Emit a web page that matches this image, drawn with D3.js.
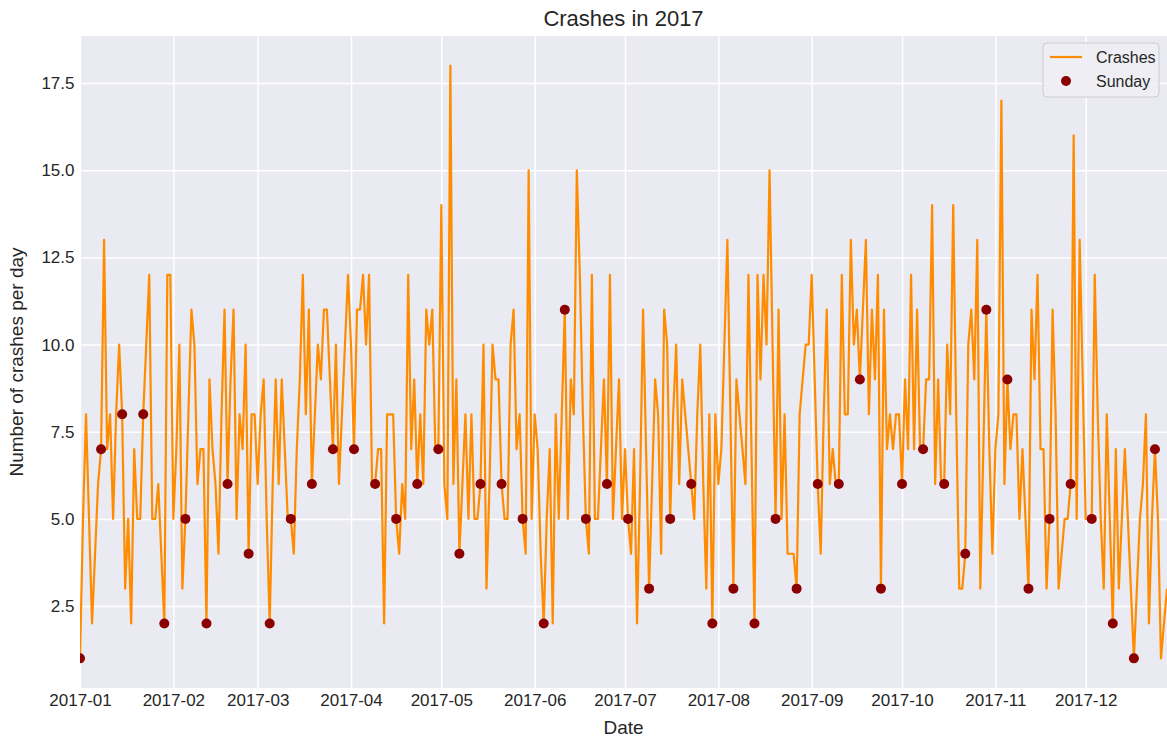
<!DOCTYPE html>
<html>
<head>
<meta charset="utf-8">
<script src="https://cdn.jsdelivr.net/npm/d3@7"></script>
<style>
  html, body { margin: 0; padding: 0; background: #ffffff; }
  svg { display: block; font-family: "Liberation Sans", Arial, sans-serif; }
</style>
</head>
<body>
<svg id="chart" width="1167" height="744"></svg>
<script>
// ---- data (crashes per day, 2017) ----
const jan = [1,5,8,5,2,4,6,7,13,7,8,5,8,10,8,3,5,2,7,5,5,8,10,12,5,5,6,4,2,12,12];
const feb = [5,7,10,3,5,8,11,10,6,7,7,2,9,7,6,4,8,11,6,9,11,5,8,7,10,4,8,8];
const mar = [6,8,9,5,2,6,9,6,9,7,5,5,4,7,9,12,8,11,6,8,10,9,11,11,9,7,10,6,8,10,12];
const apr = [10,7,11,11,12,10,12,6,6,7,7,2,8,8,8,5,4,6,5,12,7,9,6,8,6,11,10,11,7,7];
const may = [14,6,5,18,6,9,4,6,8,5,8,5,5,6,10,3,6,10,9,9,6,5,5,10,11,7,8,5,4,15,5];
const jun = [8,7,4,2,5,7,2,8,5,8,11,5,9,8,15,12,8,5,4,12,5,5,7,9,6,12,5,7,9,5];
const jul = [7,5,4,7,2,6,11,7,3,6,9,8,4,11,10,5,8,10,6,9,8,7,6,5,8,10,6,3,8,2,8];
const aug = [6,7,10,13,8,3,9,8,7,6,12,7,2,12,9,12,10,15,10,5,11,5,8,4,4,4,3,8,9,10,10];
const sep = [12,9,6,4,8,11,6,7,6,6,12,8,8,13,10,11,9,11,13,8,11,9,12,3,11,7,8,7,8,8];
const oct = [6,9,7,12,7,11,7,7,9,9,14,6,9,6,6,10,8,14,8,3,3,4,10,11,9,13,3,7,11,7,4];
const nov = [7,8,17,6,9,7,8,8,5,7,5,3,11,9,12,7,7,3,5,11,8,3,4,5,5,6,16,5,13,9];
const dec = [5,5,5,12,8,5,3,8,5,2,7,3,5,7,5,3,1,3,5,6,8,2,5,7,5,1,2,3];

// Sunday values (every Sunday from 2017-01-01)
const sundayCounts = [1,7,8,8,2,5,2,6,4,2,5,6,7,7,6,5,6,7,4,6,6,5,2,11,5,6,5,3,5,6,2,3,2,5,3,6,6,9,3,6,7,6,4,11,9,3,5,6,5,2,1,7];

const yTicks = [2.5, 5.0, 7.5, 10.0, 12.5, 15.0, 17.5];
const xTickLabels = ["2017-01","2017-02","2017-03","2017-04","2017-05","2017-06","2017-07","2017-08","2017-09","2017-10","2017-11","2017-12"];

const title = "Crashes in 2017";
const xLabel = "Date";
const yLabel = "Number of crashes per day";
const seriesNames = ["Crashes", "Sunday"];

// ---- build records ----
const start = new Date(2017, 0, 1);
const dailyValues = [].concat(jan, feb, mar, apr, may, jun, jul, aug, sep, oct, nov, dec);
const daily = dailyValues.map((v, i) => ({ date: d3.timeDay.offset(start, i), value: v }));
const sundays = sundayCounts.map((v, i) => ({ date: d3.timeDay.offset(start, i * 7), value: v }));
const xTicks = xTickLabels.map(s => d3.timeParse("%Y-%m")(s));

// ---- layout ----
const plot = { left: 80, right: 1167, top: 36, bottom: 688 };
const textColor = "#262626";

const svg = d3.select("#chart");

const x = d3.scaleTime()
  .domain(d3.extent(daily, d => d.date))
  .range([plot.left, plot.right]);
const y = d3.scaleLinear()
  .domain([0.15, 18.85])
  .range([plot.bottom, plot.top]);

svg.append("defs").append("clipPath").attr("id", "plotclip")
  .append("rect")
  .attr("x", plot.left).attr("y", plot.top)
  .attr("width", plot.right - plot.left).attr("height", plot.bottom - plot.top);

svg.append("rect")
  .attr("x", plot.left).attr("y", plot.top)
  .attr("width", plot.right - plot.left).attr("height", plot.bottom - plot.top)
  .attr("fill", "#EAEAF2");

const gx = svg.append("g")
  .attr("transform", `translate(0,${plot.bottom})`)
  .call(d3.axisBottom(x).tickValues(xTicks).tickFormat(d3.timeFormat("%Y-%m"))
    .tickSize(-(plot.bottom - plot.top)).tickPadding(6));
gx.select(".domain").remove();
gx.selectAll(".tick line").attr("stroke", "#ffffff").attr("stroke-width", 1.5);
gx.selectAll(".tick text").attr("fill", textColor).style("font-size", "17px");

const gy = svg.append("g")
  .attr("transform", `translate(${plot.left},0)`)
  .call(d3.axisLeft(y).tickValues(yTicks).tickFormat(d3.format(".1f"))
    .tickSize(-(plot.right - plot.left)).tickPadding(5.5));
gy.select(".domain").remove();
gy.selectAll(".tick line").attr("stroke", "#ffffff").attr("stroke-width", 1.5);
gy.selectAll(".tick text").attr("fill", textColor).style("font-size", "17px");

const g = svg.append("g").attr("clip-path", "url(#plotclip)");
g.append("path")
  .datum(daily)
  .attr("fill", "none")
  .attr("stroke", "#FF8C00")
  .attr("stroke-width", 2.2)
  .attr("stroke-linejoin", "round")
  .attr("d", d3.line().x(d => x(d.date)).y(d => y(d.value)));

g.selectAll("circle.sun")
  .data(sundays)
  .join("circle")
  .attr("class", "sun")
  .attr("cx", d => x(d.date))
  .attr("cy", d => y(d.value))
  .attr("r", 5)
  .attr("fill", "#8B0000");

svg.append("text")
  .attr("x", (plot.left + plot.right) / 2).attr("y", 26)
  .attr("text-anchor", "middle")
  .attr("fill", textColor).style("font-size", "22px")
  .text(title);

svg.append("text")
  .attr("x", (plot.left + plot.right) / 2).attr("y", 734)
  .attr("text-anchor", "middle")
  .attr("fill", textColor).style("font-size", "19px")
  .text(xLabel);

svg.append("text")
  .attr("transform", `translate(23,${(plot.top + plot.bottom) / 2}) rotate(-90)`)
  .attr("text-anchor", "middle")
  .attr("fill", textColor).style("font-size", "19px")
  .text(yLabel);

const lg = svg.append("g").attr("transform", "translate(1043,43)");
lg.append("rect")
  .attr("x", 0).attr("y", 0).attr("width", 116).attr("height", 54)
  .attr("rx", 4).attr("ry", 4)
  .attr("fill", "#EEEEF4").attr("fill-opacity", 0.9)
  .attr("stroke", "#CCCCCC").attr("stroke-width", 1);
lg.append("line")
  .attr("x1", 7).attr("x2", 39).attr("y1", 14).attr("y2", 14)
  .attr("stroke", "#FF8C00").attr("stroke-width", 2.2);
lg.append("circle")
  .attr("cx", 23).attr("cy", 38).attr("r", 5).attr("fill", "#8B0000");
lg.selectAll("text.lbl")
  .data(seriesNames)
  .join("text")
  .attr("class", "lbl")
  .attr("x", 53).attr("y", (d, i) => 20 + i * 24)
  .attr("fill", textColor).style("font-size", "16px")
  .text(d => d);
</script>
</body>
</html>
